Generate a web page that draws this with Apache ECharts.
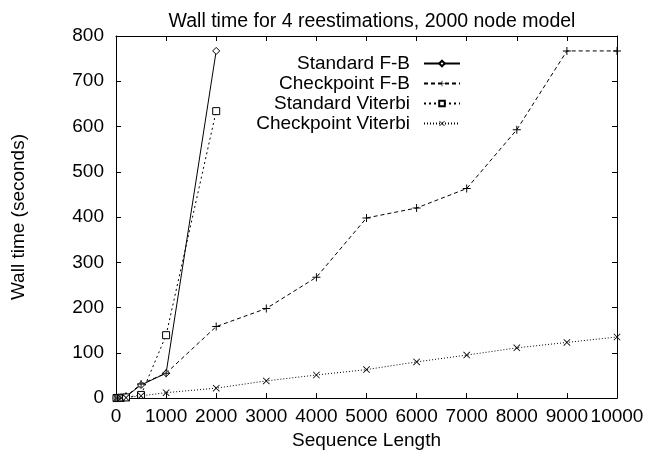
<!DOCTYPE html>
<html><head><meta charset="utf-8">
<script src="https://cdn.jsdelivr.net/npm/echarts@6/dist/echarts.min.js"></script>
<style>html,body{margin:0;padding:0;background:#fff}#c{width:648px;height:455px}</style>
</head><body><div id="c"></div>
<script>
const seriesNames = ["Standard F-B", "Checkpoint F-B", "Standard Viterbi", "Checkpoint Viterbi"];
const xShort = [10, 50, 100, 200, 500, 1000, 2000];
const xLong = [10, 50, 100, 200, 500, 1000, 2000, 3000, 4000, 5000, 6000, 7000, 8000, 9000, 10000];
const stdFB = [0.2, 0.8, 1.5, 3.5, 29, 55, 767];
const ckFB = [0.2, 0.8, 1.5, 4, 31, 55, 158, 198, 267, 398, 420, 463, 593, 767, 767];
const stdVit = [0.1, 0.3, 0.6, 1.5, 7, 139, 634];
const ckVit = [0.1, 0.3, 0.5, 1, 5, 12, 22, 38, 51, 63, 80, 95, 111, 123, 135];
const xTicks = {min: 0, max: 10000, interval: 1000};
const yTicks = {min: 0, max: 800, interval: 100};

const pair = (xs, ys) => xs.map((x, i) => [x, ys[i]]);
const FONT = 'Liberation Sans, Arial, Helvetica, sans-serif';
const FS = 19;
const plusPath = 'path://M4.4,0H5.6V4.4H10V5.6H5.6V10H4.4V5.6H0V4.4H4.4Z';
const crossPath = 'path://M0.8,0L5,4.2L9.2,0L10,0.8L5.8,5L10,9.2L9.2,10L5,5.8L0.8,10L0,9.2L4.2,5L0,0.8Z';

const chart = echarts.init(document.getElementById('c'), null, {renderer: 'canvas'});
const axisCommon = {
  axisLine: {show: true, onZero: false, lineStyle: {color: '#000', width: 1}},
  axisTick: {show: true, inside: true, length: 5, lineStyle: {color: '#000'}},
  splitLine: {show: false}
};
chart.setOption({
  animation: false,
  backgroundColor: '#fff',
  title: {text: 'Wall time for 4 reestimations, 2000 node model', left: 367, textAlign: 'center', top: 6,
    textStyle: {fontFamily: FONT, fontWeight: 'normal', fontSize: 19.5, lineHeight: 21, color: '#000'}},
  grid: {left: 116, right: 31, top: 36, bottom: 50, containLabel: false},
  legend: {
    orient: 'vertical', right: 182, top: 49, align: 'right', itemGap: 1, itemWidth: 36, itemHeight: 7,
    data: seriesNames,
    textStyle: {fontFamily: FONT, fontSize: FS, lineHeight: 19, color: '#000', padding: [0, 9, 0, 0]}
  },
  xAxis: [
    Object.assign({type: 'value', position: 'bottom', min: xTicks.min, max: xTicks.max, interval: xTicks.interval,
      name: 'Sequence Length', nameLocation: 'middle', nameGap: 24,
      nameTextStyle: {fontFamily: FONT, fontSize: FS, color: '#000'},
      axisLabel: {fontFamily: FONT, fontSize: FS, color: '#000', margin: 9, hideOverlap: false,
        showMinLabel: true, showMaxLabel: true, formatter: v => String(v)}}, axisCommon),
    Object.assign({type: 'value', position: 'top', min: xTicks.min, max: xTicks.max, interval: xTicks.interval,
      axisLabel: {show: false}}, axisCommon)
  ],
  yAxis: [
    Object.assign({type: 'value', position: 'left', min: yTicks.min, max: yTicks.max, interval: yTicks.interval,
      name: 'Wall time (seconds)', nameLocation: 'middle', nameGap: 88, nameRotate: 90,
      nameTextStyle: {fontFamily: FONT, fontSize: FS, color: '#000'},
      axisLabel: {fontFamily: FONT, fontSize: FS, color: '#000', margin: 12, formatter: v => String(v)}}, axisCommon),
    Object.assign({type: 'value', position: 'right', min: yTicks.min, max: yTicks.max, interval: yTicks.interval,
      axisLabel: {show: false}}, axisCommon)
  ],
  series: [
    {name: seriesNames[0], type: 'line', data: pair(xShort, stdFB), symbol: 'diamond', symbolSize: 7,
      lineStyle: {color: '#000', width: 1, type: 'solid'},
      itemStyle: {color: '#fff', borderColor: '#000', borderWidth: 1}},
    {name: seriesNames[1], type: 'line', data: pair(xLong, ckFB), symbol: plusPath, symbolSize: 8,
      lineStyle: {color: '#000', width: 1, type: [4, 3]},
      itemStyle: {color: '#000', borderWidth: 0}},
    {name: seriesNames[2], type: 'line', data: pair(xShort, stdVit), symbol: 'rect', symbolSize: 7,
      lineStyle: {color: '#000', width: 1, type: [2, 3]},
      itemStyle: {color: '#fff', borderColor: '#000', borderWidth: 1}},
    {name: seriesNames[3], type: 'line', data: pair(xLong, ckVit), symbol: crossPath, symbolSize: 7,
      lineStyle: {color: '#000', width: 1, type: [1, 2]},
      itemStyle: {color: '#000', borderWidth: 0}}
  ]
});
</script></body></html>
